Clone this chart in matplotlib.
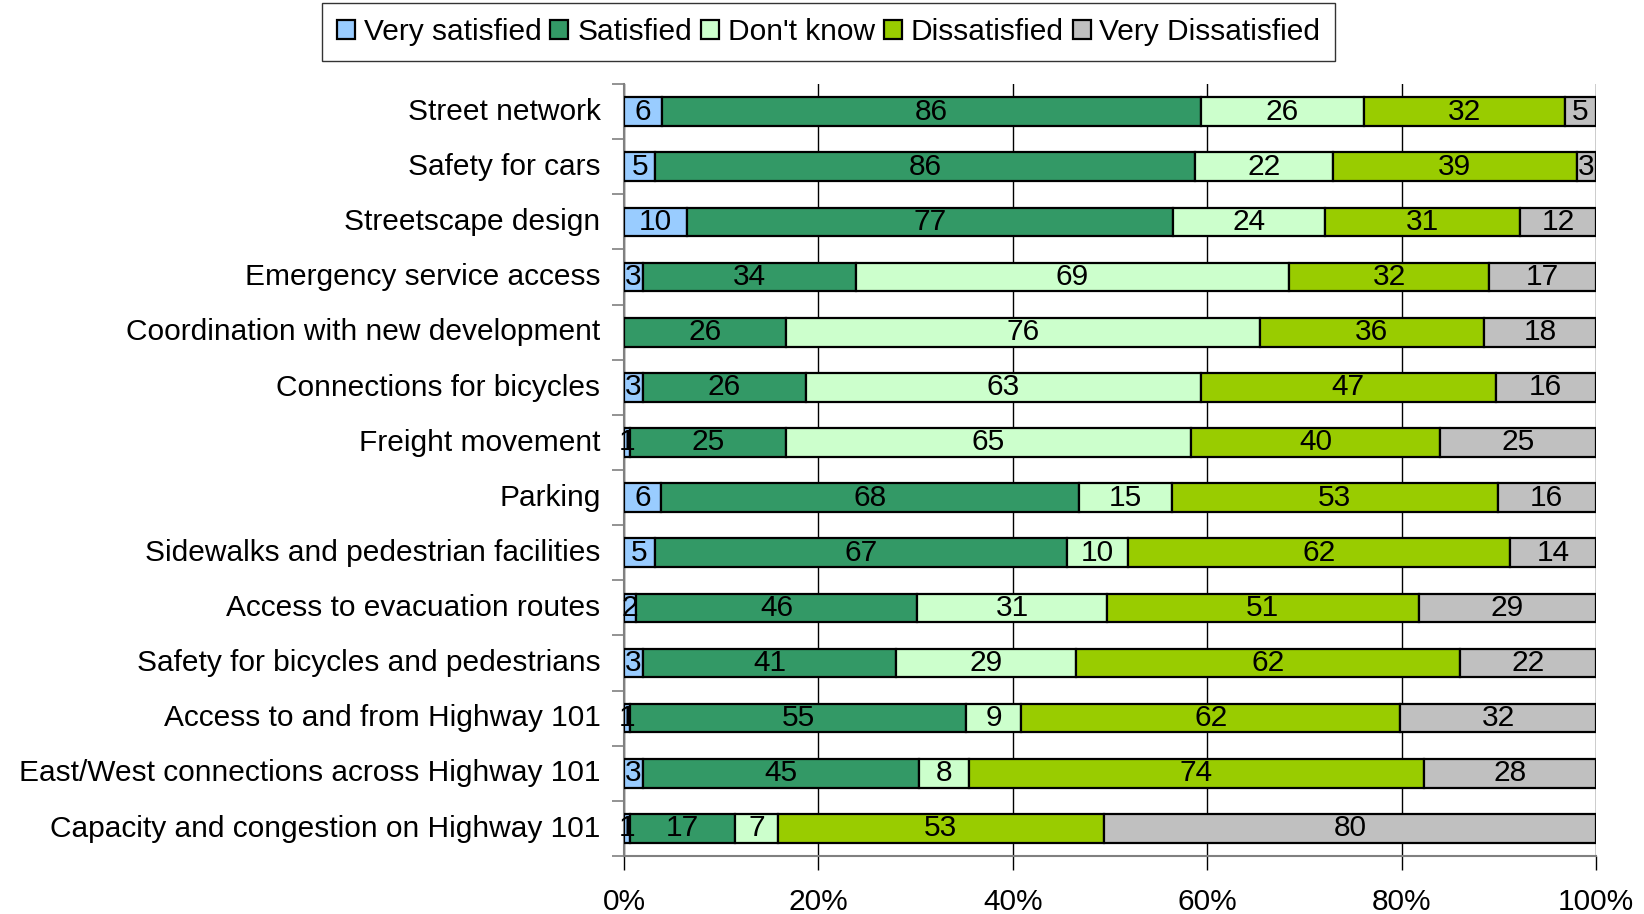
import numpy as np
import matplotlib
matplotlib.use("Agg")
import matplotlib.pyplot as plt
import matplotlib.transforms as mtransforms
from matplotlib.ticker import FixedLocator, PercentFormatter

plt.rcParams['font.family'] = ['Liberation Sans', 'DejaVu Sans']

categories = [
    "Street network",
    "Safety for cars",
    "Streetscape design",
    "Emergency service access",
    "Coordination with new development",
    "Connections for bicycles",
    "Freight movement",
    "Parking",
    "Sidewalks and pedestrian facilities",
    "Access to evacuation routes",
    "Safety for bicycles and pedestrians",
    "Access to and from Highway 101",
    "East/West connections across Highway 101",
    "Capacity and congestion on Highway 101",
]
series_names = ["Very satisfied", "Satisfied", "Don't know", "Dissatisfied", "Very Dissatisfied"]
very_satisfied = [6, 5, 10, 3, 0, 3, 1, 6, 5, 2, 3, 1, 3, 1]
satisfied = [86, 86, 77, 34, 26, 26, 25, 68, 67, 46, 41, 55, 45, 17]
dont_know = [26, 22, 24, 69, 76, 63, 65, 15, 10, 31, 29, 9, 8, 7]
dissatisfied = [32, 39, 31, 32, 36, 47, 40, 53, 62, 51, 62, 62, 74, 53]
very_dissatisfied = [5, 3, 12, 17, 18, 16, 25, 16, 14, 29, 22, 32, 28, 80]
colors = ["#99CCFF", "#339966", "#CCFFCC", "#99CC00", "#C0C0C0"]

data = np.array([very_satisfied, satisfied, dont_know, dissatisfied, very_dissatisfied], dtype=float)
totals = data.sum(axis=0)
shares = data / totals * 100

fig = plt.figure(figsize=(16.44, 9.14), dpi=100)
ax = fig.add_axes([0.3796, 0.0635, 0.9708 - 0.3796, 0.908 - 0.0635])

FS = 21.5
n = len(categories)
y = np.arange(n)
left = np.zeros(n)
handles = []
for i, name in enumerate(series_names):
    bars = ax.barh(y, shares[i], left=left, height=0.52, color=colors[i],
                   edgecolor="black", linewidth=1.6, label=name, zorder=3)
    handles.append(bars)
    for j in range(n):
        v = data[i, j]
        if v > 0:
            ax.text(left[j] + shares[i, j] / 2, y[j], f"{int(v)}",
                    ha="center", va="center", fontsize=FS, color="black", zorder=4)
    left += shares[i]

ax.set_xlim(0, 100)
ax.set_ylim(n - 0.5, -0.5)
ax.xaxis.set_major_locator(FixedLocator([0, 20, 40, 60, 80, 100]))
ax.xaxis.set_major_formatter(PercentFormatter(decimals=0))
ax.set_yticks(y)
ax.set_yticklabels(categories)
ax.yaxis.set_minor_locator(FixedLocator(np.arange(-0.5, n, 1.0)))
ax.tick_params(axis='y', which='major', length=0, pad=17, labelsize=FS)
ax.tick_params(axis='y', which='minor', length=9, width=1.2, color="#808080")
ax.tick_params(axis='x', which='major', length=10, width=1.0, color="#000000", pad=13, labelsize=FS)

shift = mtransforms.ScaledTranslation(0, 2 / 72, fig.dpi_scale_trans)
for lbl in ax.get_yticklabels():
    lbl.set_transform(lbl.get_transform() + shift)

ax.grid(axis='x', color='black', linewidth=1.0, zorder=0)
for s in ['top', 'right']:
    ax.spines[s].set_visible(False)
ax.spines['left'].set_color('#808080')
ax.spines['left'].set_linewidth(1.5)
ax.spines['bottom'].set_color('#808080')
ax.spines['bottom'].set_linewidth(1.5)
ax.set_axisbelow(True)

leg = fig.legend(handles=handles, labels=series_names, loc='upper center',
                 bbox_to_anchor=(0.504, 0.997), ncol=5, fontsize=FS,
                 frameon=True, fancybox=False, edgecolor='black',
                 handlelength=0.6, handleheight=0.6, handletextpad=0.3,
                 columnspacing=0.3, borderpad=0.5, borderaxespad=0)
leg.get_frame().set_linewidth(1.0)

fig.savefig("out.png", dpi=100)
